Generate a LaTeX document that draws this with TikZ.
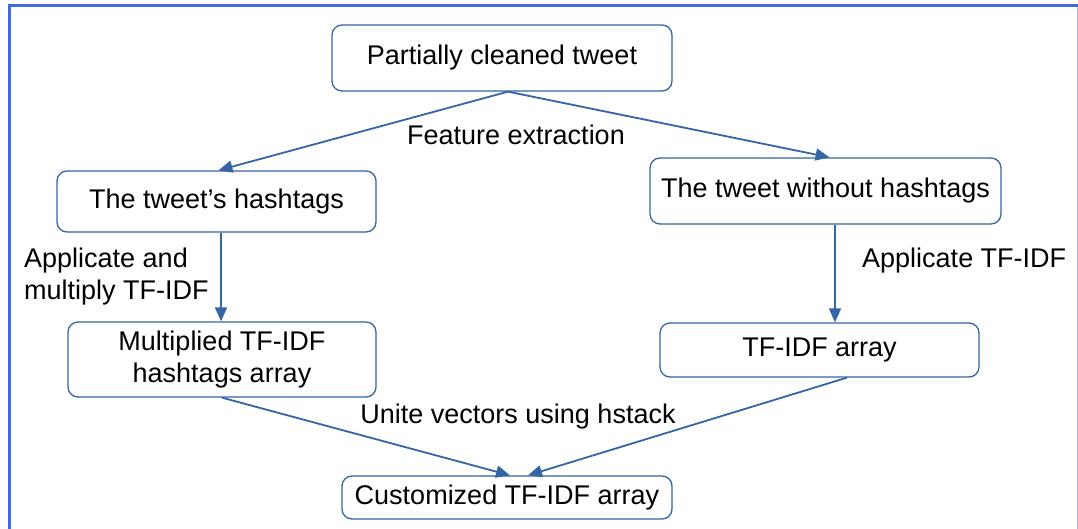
\documentclass[tikz,border=0pt]{standalone}
\usepackage{fontspec}
\setmainfont{Liberation Sans}
\usetikzlibrary{arrows.meta}
\definecolor{edge}{HTML}{3465A4}
\definecolor{frameblue}{HTML}{4169E1}
\definecolor{framelight}{HTML}{B4B4EE}

\begin{document}
\begin{tikzpicture}[x=1pt,y=-1pt,
  box/.style={draw=edge, line width=1.3pt, rounded corners=10pt, fill=white,
    align=center, inner sep=0pt, font=\fontsize{27}{32}\selectfont},
  lbl/.style={inner sep=0pt, align=left, font=\fontsize{27}{32}\selectfont},
  flow/.style={draw=edge, line width=1.8pt, -{Triangle[length=14pt,width=12pt]}}]
\useasboundingbox (0,0) rectangle (1078,529);
\fill[white] (0,0) rectangle (1078,529);
% page frame
\draw[framelight, line width=1pt] (1077,6) -- (1077,529);
\draw[frameblue, line width=3pt] (9,529) -- (9,6) -- (1078,6);

% boxes
\node[box, minimum width=340pt, minimum height=66pt] (top) at (502,58) {Partially cleaned tweet};
\node[box, minimum width=319pt, minimum height=61pt] (hash) at (216.5,201.5) {The tweet’s hashtags};
\node[box, minimum width=351pt, minimum height=66pt] (nohash) at (825.5,191) {The tweet without hashtags};
\node[box, minimum width=308pt, minimum height=75pt] (mult) at (222,359.5) {Multiplied TF-IDF\\hashtags array};
\node[box, minimum width=319pt, minimum height=54pt] (tfidf) at (819.5,350) {TF-IDF array};
\node[box, minimum width=330pt, minimum height=43pt] (cust) at (507,497.5) {Customized TF-IDF array};

% connectors
\draw[flow] ([xshift=6pt]top.south) -- ([xshift=2pt]hash.north);
\draw[flow] ([xshift=6pt]top.south) -- ([xshift=4pt]nohash.north);
\draw[flow] ([xshift=4.5pt]hash.south) -- ([xshift=-1pt]mult.north);
\draw[flow] ([xshift=9.5pt]nohash.south) -- ([xshift=15.5pt]tfidf.north);
\draw[flow] (mult.south) -- ([xshift=3pt]cust.north);
\draw[flow] ([xshift=27.5pt]tfidf.south) -- ([xshift=21pt]cust.north);

% labels
\node[lbl] (fe) at (516,135) {Feature extraction};
\node[lbl, anchor=west] (la) at (24,277) {Applicate and\\multiply TF-IDF};
\node[lbl, anchor=west] (ra) at (862,261) {Applicate TF-IDF};
\node[lbl] (uv) at (518,417) {Unite vectors using hstack};
\end{tikzpicture}
\end{document}
